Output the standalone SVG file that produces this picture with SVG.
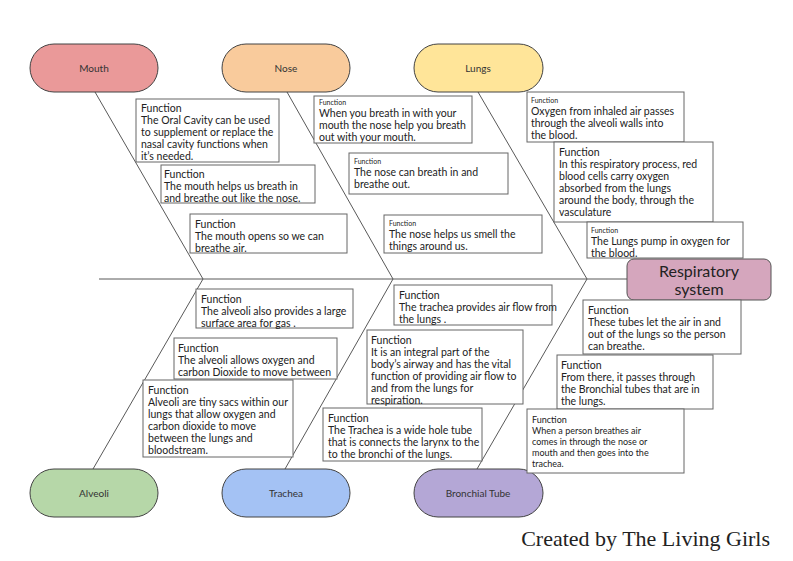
<svg xmlns="http://www.w3.org/2000/svg" width="793" height="561" viewBox="0 0 793 561">
<style>
.pill{stroke:#434343;stroke-width:1}
.pl{font-family:Lato,"Noto Sans",sans-serif;font-size:10px;fill:#333;text-anchor:middle}
.box{fill:#fff;stroke:#666;stroke-width:1}
.t{font-family:Lato,"Noto Sans",sans-serif;font-size:10.5px;fill:#222}
.s{font-size:7px}
.sm{font-size:9px}
.bone{stroke:#595959;stroke-width:1;fill:none}
.title{font-family:Lato,"Noto Sans",sans-serif;font-size:16px;fill:#222;text-anchor:middle}
.credit{font-family:"Liberation Serif","DejaVu Serif",serif;font-size:22px;fill:#222;text-anchor:end}
</style>
<rect width="793" height="561" fill="#fff"/>
<g id="connectors">
<line class="bone" x1="99" y1="279" x2="627" y2="279"/>
<line class="bone" x1="95" y1="92" x2="203" y2="279"/>
<line class="bone" x1="287" y1="92" x2="393" y2="279"/>
<line class="bone" x1="478" y1="92" x2="587" y2="279"/>
<line class="bone" x1="203" y1="279" x2="93" y2="469"/>
<line class="bone" x1="393" y1="279" x2="285" y2="469"/>
<line class="bone" x1="587" y1="279" x2="477" y2="469"/>
</g>
<g id="mouth"><rect class="pill" x="30" y="44" width="128" height="48" rx="24" fill="#ea9999"/><text class="pl" x="94" y="72">Mouth</text></g>
<g id="nose"><rect class="pill" x="222" y="44" width="128" height="48" rx="24" fill="#f9cb9c"/><text class="pl" x="286" y="72">Nose</text></g>
<g id="lungs"><rect class="pill" x="414" y="44" width="129" height="48" rx="24" fill="#ffe599"/><text class="pl" x="478" y="72">Lungs</text></g>
<g id="alveoli"><rect class="pill" x="30" y="469" width="128" height="48" rx="24" fill="#b6d7a8"/><text class="pl" x="94" y="497">Alveoli</text></g>
<g id="trachea"><rect class="pill" x="222" y="469" width="128" height="48" rx="24" fill="#a4c2f4"/><text class="pl" x="286" y="497">Trachea</text></g>
<g id="bronchial"><rect class="pill" x="414" y="469" width="129" height="48" rx="24" fill="#b4a7d6"/><text class="pl" x="478" y="497">Bronchial Tube</text></g>

<g id="box1"><rect class="box" x="136" y="99" width="143" height="63"/><text class="t"><tspan x="141" y="112">Function</tspan><tspan x="141" y="124">The Oral Cavity can be used</tspan><tspan x="141" y="136">to supplement or replace the</tspan><tspan x="141" y="148">nasal cavity functions when</tspan><tspan x="141" y="160">it’s needed.</tspan></text></g>
<g id="box2"><rect class="box" x="161" y="165" width="154" height="38"/><text class="t"><tspan x="164" y="178">Function</tspan><tspan x="164" y="190">The mouth helps us breath in</tspan><tspan x="164" y="202">and breathe out like the nose.</tspan></text></g>
<g id="box3"><rect class="box" x="190" y="214" width="157" height="39"/><text class="t"><tspan x="195" y="228">Function</tspan><tspan x="195" y="240">The mouth opens so we can</tspan><tspan x="195" y="252">breathe air.</tspan></text></g>

<g id="box4"><rect class="box" x="314" y="96" width="158" height="47"/><text class="t"><tspan class="s" x="319" y="105">Function</tspan><tspan x="319" y="117">When you breath in with your</tspan><tspan x="319" y="129">mouth the nose help you breath</tspan><tspan x="319" y="141">out with your mouth.</tspan></text></g>
<g id="box5"><rect class="box" x="349" y="153" width="159" height="41"/><text class="t"><tspan class="s" x="354" y="164">Function</tspan><tspan x="354" y="176">The nose can breath in and</tspan><tspan x="354" y="188">breathe out.</tspan></text></g>
<g id="box6"><rect class="box" x="384" y="215" width="158" height="38"/><text class="t"><tspan class="s" x="389" y="226">Function</tspan><tspan x="389" y="238">The nose helps us smell the</tspan><tspan x="389" y="250">things around us.</tspan></text></g>

<g id="box7"><rect class="box" x="527" y="92" width="157" height="50"/><text class="t"><tspan class="s" x="531" y="103">Function</tspan><tspan x="531" y="115">Oxygen from inhaled air passes</tspan><tspan x="531" y="127">through the alveoli walls into</tspan><tspan x="531" y="139">the blood.</tspan></text></g>
<g id="box8"><rect class="box" x="554" y="142" width="159" height="80"/><text class="t"><tspan x="559" y="156">Function</tspan><tspan x="559" y="168">In this respiratory process, red</tspan><tspan x="559" y="180">blood cells carry oxygen</tspan><tspan x="559" y="192">absorbed from the lungs</tspan><tspan x="559" y="204">around the body, through the</tspan><tspan x="559" y="216">vasculature</tspan></text></g>
<g id="box9"><rect class="box" x="587" y="222" width="156" height="36"/><text class="t"><tspan class="s" x="591" y="233">Function</tspan><tspan x="591" y="245">The Lungs pump in oxygen for</tspan><tspan x="591" y="257">the blood.</tspan></text></g>

<g id="respiratory-system"><rect x="627" y="259" width="144" height="41" rx="7" fill="#d5a6bd" stroke="#555" stroke-width="1"/><text class="title"><tspan x="699" y="277">Respiratory</tspan><tspan x="699" y="295">system</tspan></text></g>

<g id="box10"><rect class="box" x="196" y="289" width="157" height="39"/><text class="t"><tspan x="201" y="303">Function</tspan><tspan x="201" y="315">The alveoli also provides a large</tspan><tspan x="201" y="327">surface area for gas .</tspan></text></g>
<g id="box11"><rect class="box" x="174" y="338" width="163" height="41"/><text class="t"><tspan x="178" y="352">Function</tspan><tspan x="178" y="364">The alveoli allows oxygen and</tspan><tspan x="178" y="376">carbon Dioxide to move between</tspan></text></g>
<g id="box12"><rect class="box" x="143" y="380" width="150" height="77"/><text class="t"><tspan x="148" y="394">Function</tspan><tspan x="148" y="406">Alveoli are tiny sacs within our</tspan><tspan x="148" y="418">lungs that allow oxygen and</tspan><tspan x="148" y="430">carbon dioxide to move</tspan><tspan x="148" y="442">between the lungs and</tspan><tspan x="148" y="454">bloodstream.</tspan></text></g>

<g id="box13"><rect class="box" x="394" y="285" width="158" height="40"/><text class="t"><tspan x="399" y="299">Function</tspan><tspan x="399" y="311">The trachea provides air flow from</tspan><tspan x="399" y="323">the lungs .</tspan></text></g>
<g id="box14"><rect class="box" x="367" y="330" width="156" height="74"/><text class="t"><tspan x="371" y="344">Function</tspan><tspan x="371" y="356">It is an integral part of the</tspan><tspan x="371" y="368">body’s airway and has the vital</tspan><tspan x="371" y="380">function of providing air flow to</tspan><tspan x="371" y="392">and from the lungs for</tspan><tspan x="371" y="404">respiration.</tspan></text></g>
<g id="box15"><rect class="box" x="323" y="408" width="159" height="53"/><text class="t"><tspan x="328" y="422">Function</tspan><tspan x="328" y="434">The Trachea is a wide hole tube</tspan><tspan x="328" y="446">that is connects the larynx to the</tspan><tspan x="328" y="458">to the bronchi of the lungs.</tspan></text></g>

<g id="box16"><rect class="box" x="583" y="300" width="158" height="54"/><text class="t"><tspan x="588" y="314">Function</tspan><tspan x="588" y="326">These tubes let the air in and</tspan><tspan x="588" y="338">out of the lungs so the person</tspan><tspan x="588" y="350">can breathe.</tspan></text></g>
<g id="box17"><rect class="box" x="557" y="355" width="156" height="54"/><text class="t"><tspan x="561" y="369">Function</tspan><tspan x="561" y="381">From there, it passes through</tspan><tspan x="561" y="393">the Bronchial tubes that are in</tspan><tspan x="561" y="405">the lungs.</tspan></text></g>
<g id="box18"><rect class="box" x="527" y="409" width="157" height="64"/><text class="t sm"><tspan x="532" y="423">Function</tspan><tspan x="532" y="434">When a person breathes air</tspan><tspan x="532" y="445">comes in through the nose or</tspan><tspan x="532" y="456">mouth and then goes into the</tspan><tspan x="532" y="467">trachea.</tspan></text></g>

<text class="credit" x="770" y="546">Created by The Living Girls</text>
</svg>
